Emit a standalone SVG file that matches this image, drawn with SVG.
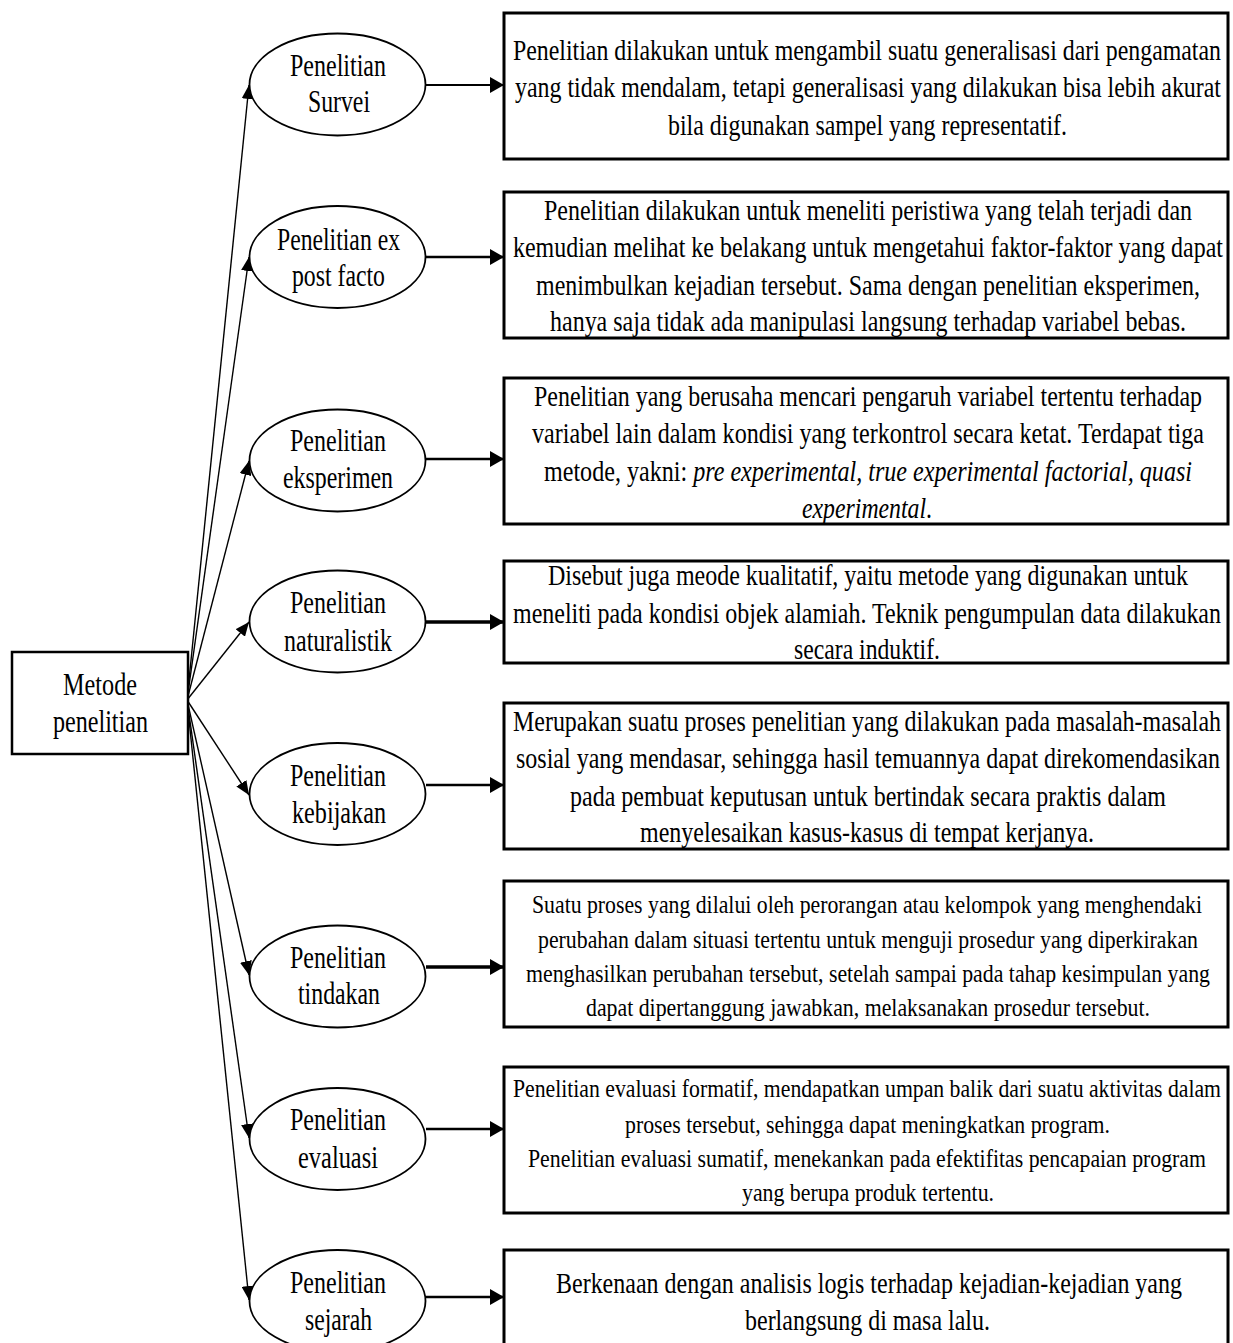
<svg xmlns="http://www.w3.org/2000/svg" width="1233" height="1343" viewBox="0 0 1233 1343">
  <style>
    .t { font-family: "Liberation Serif", "Times New Roman", serif; font-size: 31px; fill: #000; }
    .b { font-family: "Liberation Serif", "Times New Roman", serif; font-size: 30px; fill: #000; }
    .s { font-family: "Liberation Serif", "Times New Roman", serif; font-size: 25px; fill: #000; }
    .i { font-style: italic; }
    .box { fill: #fff; stroke: #000; stroke-width: 3; }
    .root { fill: #fff; stroke: #000; stroke-width: 2.5; }
    .oval { fill: #fff; stroke: #000; stroke-width: 1.8; }
    .fan { fill: none; stroke: #000; stroke-width: 1.4; marker-end: url(#tipS); }
    .link { fill: none; stroke: #000; stroke-width: 2.5; marker-end: url(#tipL); }
  </style>
  <defs>
    <marker id="tipS" markerUnits="userSpaceOnUse" markerWidth="14" markerHeight="12" refX="14" refY="6" orient="auto">
      <path d="M0,0 L14,6 L0,12 z" fill="#000"/>
    </marker>
    <marker id="tipL" markerUnits="userSpaceOnUse" markerWidth="14" markerHeight="16" refX="14" refY="8" orient="auto">
      <path d="M0,0 L14,8 L0,16 z" fill="#000"/>
    </marker>
  </defs>
  <rect width="1233" height="1343" fill="#fff"/>

  <!-- connectors: fan from the root box, then one link from each method to its description -->
  <g id="connectors">
    <line class="fan" x1="187" y1="700" x2="249" y2="85"/>
    <line class="fan" x1="187" y1="700" x2="249" y2="257"/>
    <line class="fan" x1="187" y1="700" x2="249" y2="461"/>
    <line class="fan" x1="187" y1="700" x2="249" y2="622"/>
    <line class="fan" x1="187" y1="700" x2="249" y2="795"/>
    <line class="fan" x1="187" y1="700" x2="249" y2="975"/>
    <line class="fan" x1="187" y1="700" x2="249" y2="1138"/>
    <line class="fan" x1="187" y1="700" x2="249" y2="1300"/>

    <line class="link" x1="426" y1="85" x2="504" y2="85" style="stroke-width:2"/>
    <line class="link" x1="426" y1="257" x2="504" y2="257"/>
    <line class="link" x1="426" y1="459" x2="504" y2="459"/>
    <line class="link" x1="426" y1="622" x2="504" y2="622" style="stroke-width:3.5"/>
    <line class="link" x1="426" y1="785" x2="504" y2="785"/>
    <line class="link" x1="426" y1="967" x2="504" y2="967" style="stroke-width:3.5"/>
    <line class="link" x1="426" y1="1129" x2="504" y2="1129"/>
    <line class="link" x1="426" y1="1297" x2="504" y2="1297"/>
  </g>

  <!-- root node -->
  <g id="metode-penelitian">
    <rect class="root" x="12" y="652" width="176" height="102"/>
    <text class="t" x="63" y="695" textLength="74" lengthAdjust="spacingAndGlyphs">Metode</text>
    <text class="t" x="53" y="732" textLength="95" lengthAdjust="spacingAndGlyphs">penelitian</text>
  </g>

  <!-- method nodes -->
  <g id="survei">
    <ellipse class="oval" cx="337.5" cy="84.5" rx="88" ry="51"/>
    <text class="t" x="290" y="76" textLength="96" lengthAdjust="spacingAndGlyphs">Penelitian</text>
    <text class="t" x="308" y="112" textLength="62" lengthAdjust="spacingAndGlyphs">Survei</text>
  </g>
  <g id="ex-post-facto">
    <ellipse class="oval" cx="337.5" cy="257" rx="88" ry="51"/>
    <text class="t" x="277" y="250" textLength="123" lengthAdjust="spacingAndGlyphs">Penelitian ex</text>
    <text class="t" x="292" y="286" textLength="93" lengthAdjust="spacingAndGlyphs">post facto</text>
  </g>
  <g id="eksperimen">
    <ellipse class="oval" cx="337.5" cy="460.5" rx="88" ry="51"/>
    <text class="t" x="290" y="451" textLength="96" lengthAdjust="spacingAndGlyphs">Penelitian</text>
    <text class="t" x="283" y="488" textLength="110" lengthAdjust="spacingAndGlyphs">eksperimen</text>
  </g>
  <g id="naturalistik">
    <ellipse class="oval" cx="337.5" cy="621.5" rx="88" ry="51"/>
    <text class="t" x="290" y="613" textLength="96" lengthAdjust="spacingAndGlyphs">Penelitian</text>
    <text class="t" x="284" y="651" textLength="108" lengthAdjust="spacingAndGlyphs">naturalistik</text>
  </g>
  <g id="kebijakan">
    <ellipse class="oval" cx="337.5" cy="794" rx="88" ry="51"/>
    <text class="t" x="290" y="786" textLength="96" lengthAdjust="spacingAndGlyphs">Penelitian</text>
    <text class="t" x="292" y="823" textLength="94" lengthAdjust="spacingAndGlyphs">kebijakan</text>
  </g>
  <g id="tindakan">
    <ellipse class="oval" cx="337.5" cy="976.5" rx="88" ry="51"/>
    <text class="t" x="290" y="968" textLength="96" lengthAdjust="spacingAndGlyphs">Penelitian</text>
    <text class="t" x="298" y="1004" textLength="82" lengthAdjust="spacingAndGlyphs">tindakan</text>
  </g>
  <g id="evaluasi">
    <ellipse class="oval" cx="337.5" cy="1139" rx="88" ry="51"/>
    <text class="t" x="290" y="1130" textLength="96" lengthAdjust="spacingAndGlyphs">Penelitian</text>
    <text class="t" x="298" y="1168" textLength="80" lengthAdjust="spacingAndGlyphs">evaluasi</text>
  </g>
  <g id="sejarah">
    <ellipse class="oval" cx="337.5" cy="1301" rx="88" ry="51"/>
    <text class="t" x="290" y="1293" textLength="96" lengthAdjust="spacingAndGlyphs">Penelitian</text>
    <text class="t" x="305" y="1330" textLength="67" lengthAdjust="spacingAndGlyphs">sejarah</text>
  </g>

  <!-- description boxes -->
  <g id="desc-survei">
    <rect class="box" x="504" y="13" width="724" height="146"/>
    <text class="b" x="513" y="60" textLength="708" lengthAdjust="spacingAndGlyphs">Penelitian dilakukan untuk mengambil suatu generalisasi dari pengamatan</text>
    <text class="b" x="515" y="97" textLength="706" lengthAdjust="spacingAndGlyphs">yang tidak mendalam, tetapi generalisasi yang dilakukan bisa lebih akurat</text>
    <text class="b" x="668" y="135" textLength="399" lengthAdjust="spacingAndGlyphs">bila digunakan sampel yang representatif.</text>
  </g>
  <g id="desc-ex-post-facto">
    <rect class="box" x="504" y="192" width="724" height="146"/>
    <text class="b" x="544" y="220" textLength="648" lengthAdjust="spacingAndGlyphs">Penelitian dilakukan untuk meneliti peristiwa yang telah terjadi dan</text>
    <text class="b" x="513" y="257" textLength="710" lengthAdjust="spacingAndGlyphs">kemudian melihat ke belakang untuk mengetahui faktor-faktor yang dapat</text>
    <text class="b" x="536" y="295" textLength="664" lengthAdjust="spacingAndGlyphs">menimbulkan kejadian tersebut. Sama dengan penelitian eksperimen,</text>
    <text class="b" x="550" y="331" textLength="636" lengthAdjust="spacingAndGlyphs">hanya saja tidak ada manipulasi langsung terhadap variabel bebas.</text>
  </g>
  <g id="desc-eksperimen">
    <rect class="box" x="504" y="378" width="724" height="146"/>
    <text class="b" x="534" y="406" textLength="668" lengthAdjust="spacingAndGlyphs">Penelitian yang berusaha mencari pengaruh variabel tertentu terhadap</text>
    <text class="b" x="532" y="443" textLength="672" lengthAdjust="spacingAndGlyphs">variabel lain dalam kondisi yang terkontrol secara ketat. Terdapat tiga</text>
    <text class="b" x="544" y="481" textLength="648" lengthAdjust="spacingAndGlyphs">metode, yakni: <tspan class="i">pre experimental, true experimental factorial, quasi</tspan></text>
    <text class="b" x="802" y="518" textLength="130" lengthAdjust="spacingAndGlyphs"><tspan class="i">experimental</tspan>.</text>
  </g>
  <g id="desc-naturalistik">
    <rect class="box" x="504" y="561" width="724" height="102"/>
    <text class="b" x="548" y="585" textLength="640" lengthAdjust="spacingAndGlyphs">Disebut juga meode kualitatif, yaitu metode yang digunakan untuk</text>
    <text class="b" x="513" y="623" textLength="708" lengthAdjust="spacingAndGlyphs">meneliti pada kondisi objek alamiah. Teknik pengumpulan data dilakukan</text>
    <text class="b" x="794" y="659" textLength="146" lengthAdjust="spacingAndGlyphs">secara induktif.</text>
  </g>
  <g id="desc-kebijakan">
    <rect class="box" x="504" y="703" width="724" height="146"/>
    <text class="b" x="513" y="731" textLength="708" lengthAdjust="spacingAndGlyphs">Merupakan suatu proses penelitian yang dilakukan pada masalah-masalah</text>
    <text class="b" x="516" y="768" textLength="704" lengthAdjust="spacingAndGlyphs">sosial yang mendasar, sehingga hasil temuannya dapat direkomendasikan</text>
    <text class="b" x="570" y="806" textLength="596" lengthAdjust="spacingAndGlyphs">pada pembuat keputusan untuk bertindak secara praktis dalam</text>
    <text class="b" x="640" y="842" textLength="454" lengthAdjust="spacingAndGlyphs">menyelesaikan kasus-kasus di tempat kerjanya.</text>
  </g>
  <g id="desc-tindakan">
    <rect class="box" x="504" y="881" width="724" height="146"/>
    <text class="s" x="532" y="913" textLength="670" lengthAdjust="spacingAndGlyphs">Suatu proses yang dilalui oleh perorangan atau kelompok yang menghendaki</text>
    <text class="s" x="538" y="948" textLength="660" lengthAdjust="spacingAndGlyphs">perubahan dalam situasi tertentu untuk menguji prosedur yang diperkirakan</text>
    <text class="s" x="526" y="982" textLength="684" lengthAdjust="spacingAndGlyphs">menghasilkan perubahan tersebut, setelah sampai pada tahap kesimpulan yang</text>
    <text class="s" x="586" y="1016" textLength="564" lengthAdjust="spacingAndGlyphs">dapat dipertanggung jawabkan, melaksanakan prosedur tersebut.</text>
  </g>
  <g id="desc-evaluasi">
    <rect class="box" x="504" y="1067" width="724" height="146"/>
    <text class="s" x="513" y="1097" textLength="708" lengthAdjust="spacingAndGlyphs">Penelitian evaluasi formatif, mendapatkan umpan balik dari suatu aktivitas dalam</text>
    <text class="s" x="625" y="1133" textLength="485" lengthAdjust="spacingAndGlyphs">proses tersebut, sehingga dapat meningkatkan program.</text>
    <text class="s" x="528" y="1167" textLength="678" lengthAdjust="spacingAndGlyphs">Penelitian evaluasi sumatif, menekankan pada efektifitas pencapaian program</text>
    <text class="s" x="742" y="1201" textLength="252" lengthAdjust="spacingAndGlyphs">yang berupa produk tertentu.</text>
  </g>
  <g id="desc-sejarah">
    <rect class="box" x="504" y="1250" width="724" height="110"/>
    <text class="b" x="556" y="1293" textLength="626" lengthAdjust="spacingAndGlyphs">Berkenaan dengan analisis logis terhadap kejadian-kejadian yang</text>
    <text class="b" x="745" y="1330" textLength="245" lengthAdjust="spacingAndGlyphs">berlangsung di masa lalu.</text>
  </g>
</svg>
